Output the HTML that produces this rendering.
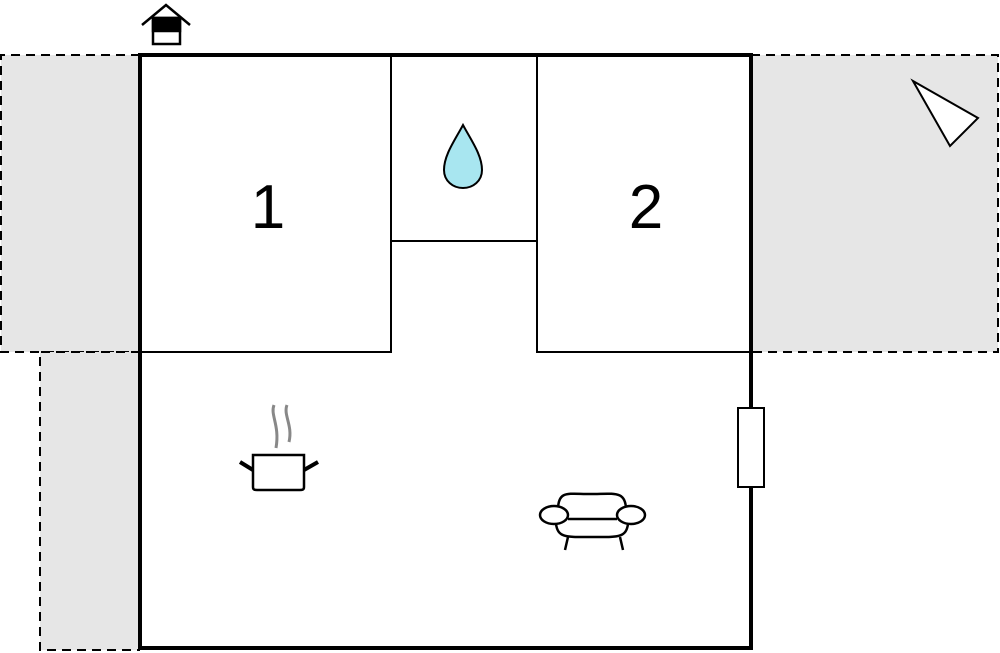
<!DOCTYPE html>
<html><head><style>body{margin:0;background:#fff}svg{display:block}</style></head><body>
<svg width="1000" height="653" viewBox="0 0 1000 653" xmlns="http://www.w3.org/2000/svg">
<g fill="#e6e6e6" stroke="#000" stroke-width="2" stroke-dasharray="9,6">
<path d="M140 55 H1 V352 H140"/>
<path d="M140 352 H40 V650 H140"/>
<path d="M751 55 H998 V352 H751"/>
</g>
<rect x="140" y="55" width="611" height="593" fill="#fff" stroke="#000" stroke-width="4"/>
<g stroke="#000" stroke-width="2" fill="none">
<path d="M391 55 V352 H140"/>
<path d="M391 241 H537"/>
<path d="M537 55 V352 H751"/>
</g>
<rect x="738" y="408" width="26" height="79" fill="#fff" stroke="#000" stroke-width="2"/>
<text x="268" y="228" font-family="Liberation Sans, sans-serif" font-size="62" text-anchor="middle">1</text>
<text x="646" y="228" font-family="Liberation Sans, sans-serif" font-size="62" text-anchor="middle">2</text>
<path d="M463 125 C455 140 444 155 444 170 C444 181 453 188 463 188 C473 188 482 181 482 170 C482 155 471 140 463 125 Z" fill="#a8e6f0" stroke="#000" stroke-width="2"/>
<polygon points="913,81 978,118 950,146" fill="#fff" stroke="#000" stroke-width="2"/>
<g stroke="#000" stroke-width="2.5">
<path d="M142 25 L166 5 L190 25" fill="none"/>
<rect x="153" y="18" width="27" height="26" fill="#fff"/>
<rect x="153" y="18" width="27" height="13" fill="#000"/>
</g>
<g fill="none" stroke="#888" stroke-width="3">
<path d="M274 405 C270 415 280 425 276 448"/>
<path d="M287 405 C283 415 293 425 289 442"/>
</g>
<g fill="none" stroke="#000" stroke-width="2.5">
<path d="M253 455 H304 V487 C304 490 302 490 300 490 H257 C255 490 253 490 253 487 Z" fill="#fff"/>
<path d="M240 462 L253 470 M318 462 L304 470" stroke-width="4"/>
<path d="M558 510 C558 490 568 494 590 494 C614 494 626 490 626 510"/>
<ellipse cx="554" cy="515" rx="14" ry="9" fill="#fff"/>
<ellipse cx="631" cy="515" rx="14" ry="9" fill="#fff"/>
<path d="M568 519 H617"/>
<path d="M556 524 C558 538 566 537 592 537 C618 537 626 538 628 524"/>
<path d="M568 537 L565 550 M620 537 L623 550"/>
</g>
</svg>
</body></html>
